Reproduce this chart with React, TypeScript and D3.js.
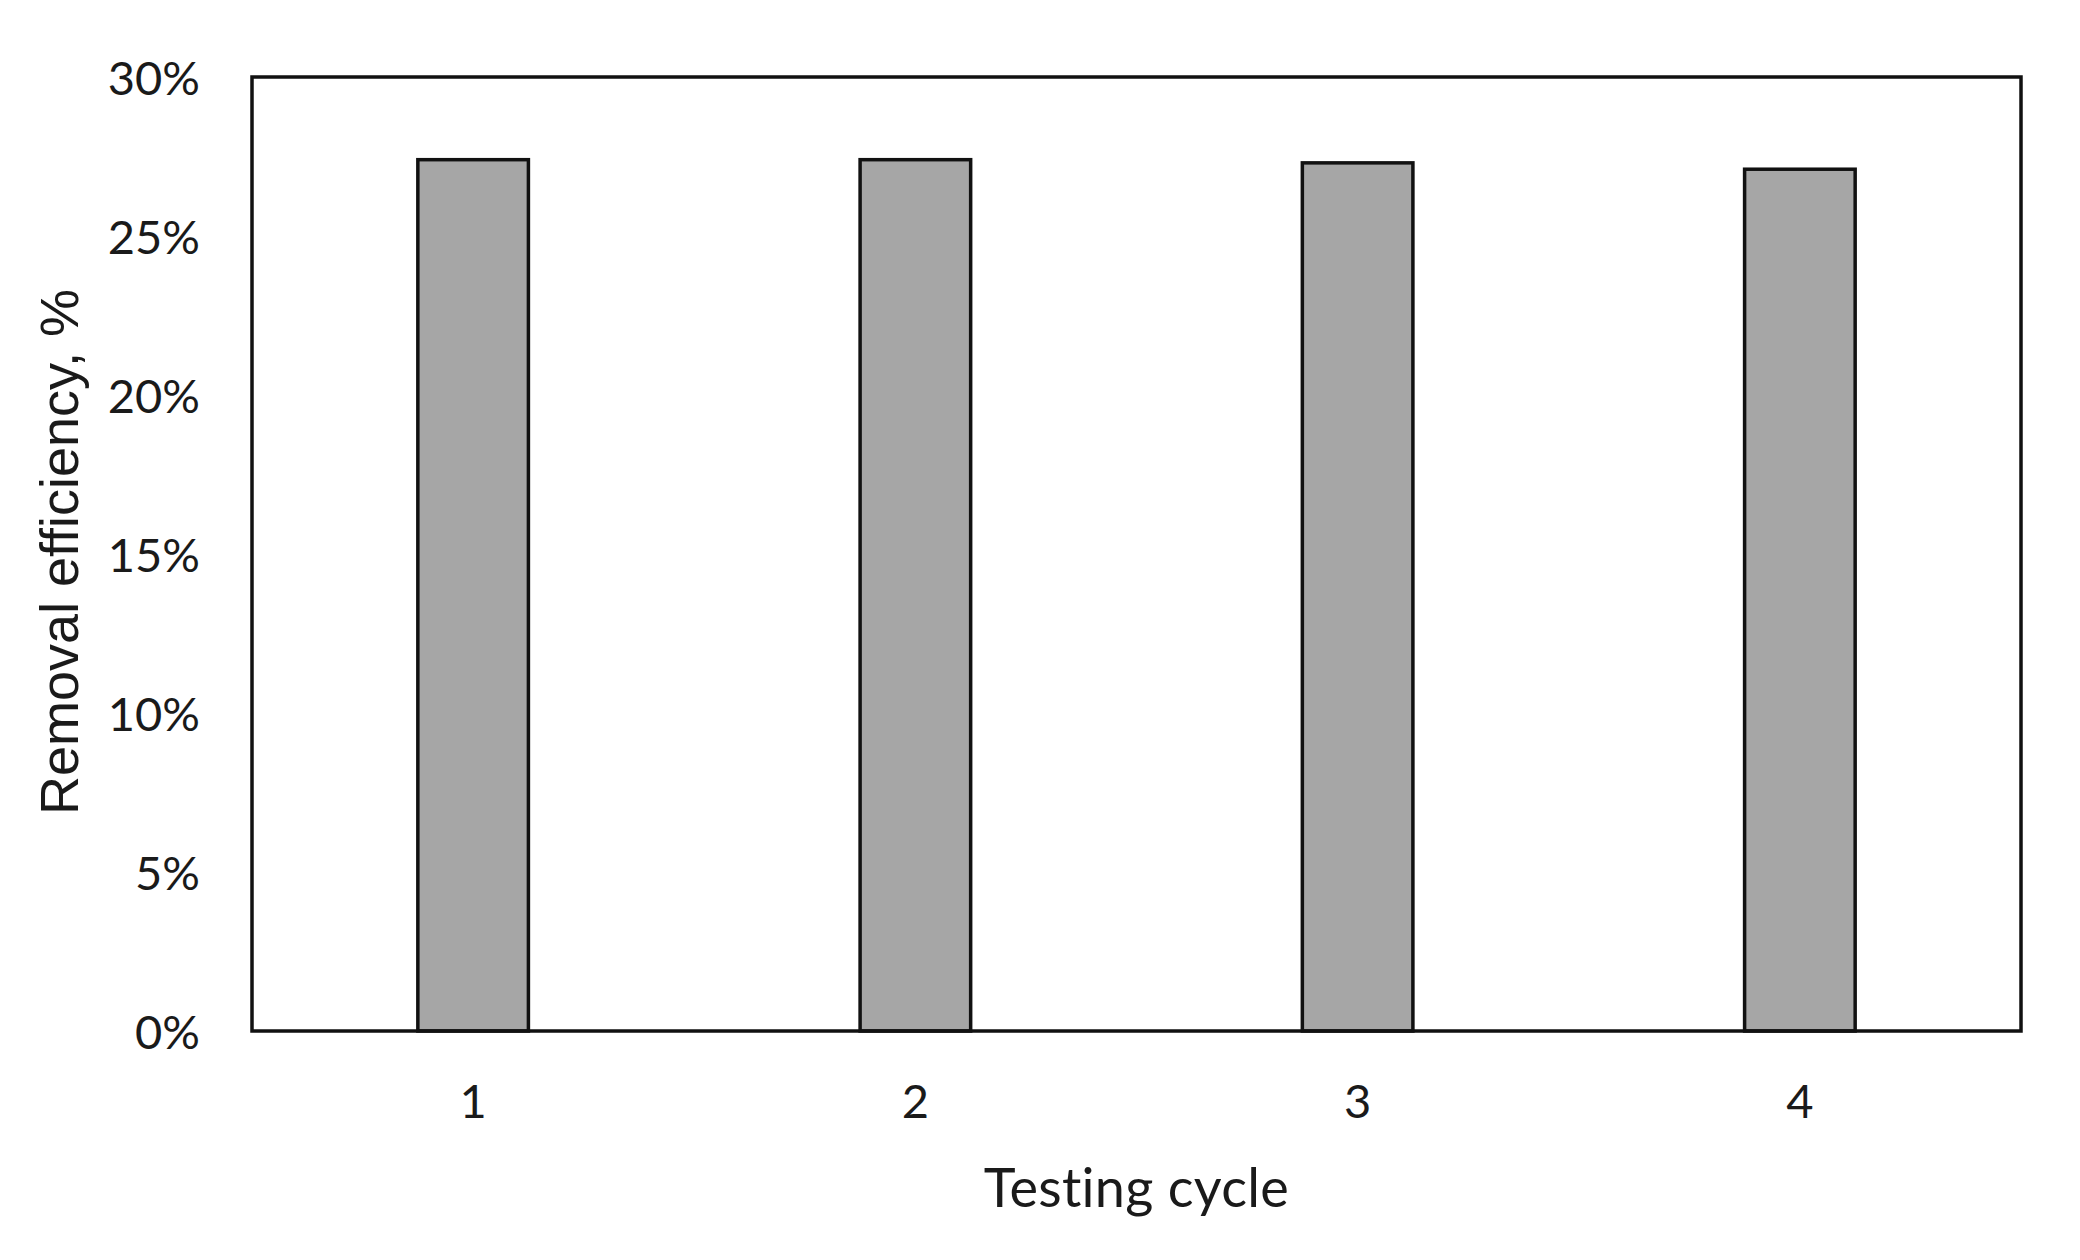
import React from "react";
import * as d3 from "d3";

const categories = ["1", "2", "3", "4"];
const values = [27.4, 27.4, 27.3, 27.1];
const yTicks = [0, 5, 10, 15, 20, 25, 30];
const xTitle = "Testing cycle";
const yTitle = "Removal efficiency, %";

const W = 2080;
const H = 1260;
const M = { left: 252, top: 77, right: 2021, bottom: 1031 };

export default function App() {
  const x = d3
    .scaleBand<string>()
    .domain(categories)
    .range([M.left, M.right])
    .paddingInner(0.75)
    .paddingOuter(0.375);
  const y = d3.scaleLinear().domain([0, 30]).range([M.bottom, M.top]);
  const tickFont = "Lato, 'Open Sans', sans-serif";
  const noLig = {
    fontVariantLigatures: "none",
    fontFeatureSettings: "'liga' 0, 'clig' 0, 'dlig' 0",
    letterSpacing: "0.3px",
  } as React.CSSProperties;

  return (
    <svg
      width={W}
      height={H}
      style={{ position: "absolute", left: 0, top: 0, background: "#fff" }}
    >
      <rect x={0} y={0} width={W} height={H} fill="#fff" />
      {categories.map((c, i) => (
        <rect
          key={c}
          x={x(c)!}
          y={y(values[i])}
          width={x.bandwidth()}
          height={y(0) - y(values[i])}
          fill="#a6a6a6"
          stroke="#111"
          strokeWidth={3.5}
        />
      ))}
      <rect
        x={M.left}
        y={M.top}
        width={M.right - M.left}
        height={M.bottom - M.top}
        fill="none"
        stroke="#111"
        strokeWidth={3.5}
      />
      {yTicks.map((t) => (
        <text
          key={t}
          x={200}
          y={y(t)}
          textAnchor="end"
          dominantBaseline="central"
          fontFamily={tickFont}
          fontSize={47}
          fill="#1a1a1a"
        >
          {t + "%"}
        </text>
      ))}
      {categories.map((c) => (
        <text
          key={c}
          x={x(c)! + x.bandwidth() / 2}
          y={1100}
          textAnchor="middle"
          dominantBaseline="central"
          fontFamily={tickFont}
          fontSize={47}
          fill="#1a1a1a"
        >
          {c}
        </text>
      ))}
      <text
        x={(M.left + M.right) / 2}
        y={1207}
        textAnchor="middle"
        fontFamily={tickFont}
        fontSize={54}
        fill="#1a1a1a"
        style={noLig}
      >
        {xTitle}
      </text>
      <text
        transform={`translate(78, ${(M.top + M.bottom) / 2 - 2}) rotate(-90)`}
        textAnchor="middle"
        fontFamily="'Liberation Sans', Arial, sans-serif"
        fontSize={54}
        fill="#1a1a1a"
      >
        {yTitle}
      </text>
    </svg>
  );
}
